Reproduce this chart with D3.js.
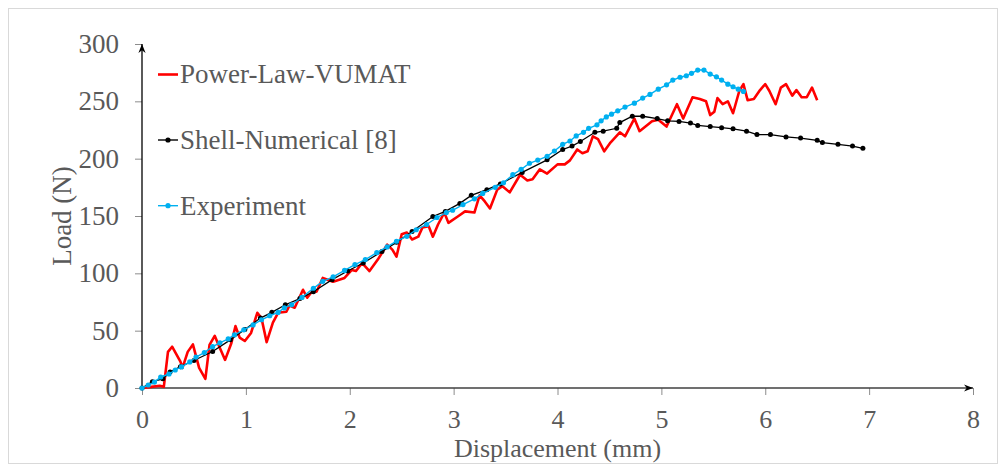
<!DOCTYPE html>
<html>
<head>
<meta charset="utf-8">
<script src="https://cdn.jsdelivr.net/npm/d3@7"></script>
<style>
  body { margin: 0; background: #fff; }
  svg { display: block; font-family: 'Liberation Serif', 'Times New Roman', serif; }
</style>
</head>
<body>
<svg id="chart" width="1005" height="466"></svg>
<script>
// Power-Law-VUMAT (red)
const redX = [0, 0.09, 0.17, 0.21, 0.25, 0.29, 0.37, 0.39, 0.44, 0.49,
    0.55, 0.61, 0.65, 0.70, 0.73, 0.80, 0.86, 0.90, 0.94, 0.99,
    1.05, 1.11, 1.15, 1.20, 1.26, 1.31, 1.39, 1.42, 1.47, 1.55,
    1.59, 1.65, 1.68, 1.74, 1.84, 1.95, 2.02, 2.06, 2.12, 2.19,
    2.27, 2.36, 2.41, 2.45, 2.50, 2.55, 2.60, 2.66, 2.70, 2.76,
    2.80, 2.85, 2.91, 2.95, 3.04, 3.11, 3.20, 3.25, 3.30, 3.35,
    3.42, 3.47, 3.54, 3.64, 3.71, 3.76, 3.83, 3.90, 4.00, 4.07,
    4.12, 4.19, 4.24, 4.29, 4.34, 4.39, 4.45, 4.51, 4.60, 4.65,
    4.74, 4.79, 4.91, 4.97, 5.05, 5.15, 5.21, 5.30, 5.37, 5.43,
    5.47, 5.51, 5.54, 5.59, 5.64, 5.69, 5.75, 5.79, 5.83, 5.89,
    5.95, 6.00, 6.04, 6.10, 6.15, 6.20, 6.26, 6.30, 6.35, 6.40,
    6.45, 6.50]
const redY = [0, 1, 2, 1, 31.5, 36, 23, 17.5, 31.5, 38,
    17.5, 8, 37.6, 45.5, 39, 24.5, 39, 54, 44, 41,
    48, 65.6, 61, 40, 57, 65.6, 66.5, 72, 70, 85.7,
    78.7, 85.7, 84, 96, 92.7, 96, 103, 102, 109, 102,
    112, 125, 120.7, 114.6, 134, 135.6, 129.5, 132, 140, 141,
    132, 142.6, 153, 144, 149.6, 154, 153, 168, 162.7, 156.6,
    173, 176, 170.6, 186, 181, 182, 190.7, 187, 195, 195,
    198.5, 208, 204.7, 206.4, 219.5, 217, 206.4, 214, 223, 219.5,
    235, 224, 232.7, 234, 228, 247.5, 235, 253.6, 252, 250,
    238, 241, 252.8, 247.5, 250, 239.6, 259, 265, 251, 252,
    259.8, 265, 259, 247.5, 262, 265, 255, 259.8, 253.6, 253.6,
    262, 251]

// Shell-Numerical [8] (black)
const blackX = [0, 0.1, 0.2, 0.27, 0.37, 0.5, 0.68, 0.85, 0.99, 1.14,
    1.25, 1.38, 1.52, 1.65, 1.83, 1.98, 2.13, 2.31, 2.45, 2.6,
    2.8, 2.92, 3.06, 3.17, 3.32, 3.45, 3.66, 3.9, 4.05, 4.14,
    4.22, 4.36, 4.44, 4.57, 4.6, 4.72, 4.82, 4.96, 5.06, 5.17,
    5.28, 5.35, 5.47, 5.58, 5.69, 5.82, 5.92, 6.05, 6.2, 6.34,
    6.5, 6.55, 6.7, 6.84, 6.94]
const blackY = [0, 5.5, 8, 14, 18.6, 24, 31.8, 42, 51, 61,
    66, 72.6, 78, 84, 94.5, 102, 109, 119, 127, 136.5,
    149.6, 154, 161, 168, 173, 178, 188, 199, 208, 211,
    215, 223, 224, 226.5, 231.5, 237, 237, 235, 233, 232.5,
    231, 229, 228, 227, 226, 224, 221, 221, 219, 218,
    216, 214, 212.5, 211, 209]

// Experiment (blue)
const blueX = [0, 0.06, 0.12, 0.18, 0.26, 0.32, 0.38, 0.46, 0.52, 0.6,
    0.68, 0.75, 0.83, 0.89, 0.98, 1.07, 1.15, 1.23, 1.31, 1.37,
    1.44, 1.54, 1.65, 1.74, 1.84, 1.95, 2.05, 2.15, 2.26, 2.36,
    2.45, 2.55, 2.64, 2.74, 2.84, 2.93, 2.99, 3.09, 3.2, 3.28,
    3.4, 3.48, 3.57, 3.65, 3.73, 3.81, 3.9, 3.97, 4.05, 4.12,
    4.18, 4.25, 4.3, 4.38, 4.42, 4.47, 4.52, 4.58, 4.65, 4.74,
    4.82, 4.89, 4.97, 5.05, 5.11, 5.18, 5.24, 5.29, 5.35, 5.41,
    5.47, 5.53, 5.58, 5.64, 5.69, 5.74, 5.79]
const blueY = [0, 2.6, 5.2, 9.6, 12.2, 15.7, 18.4, 22.7, 27, 30.9,
    36, 39.4, 42.8, 46.4, 50.7, 55, 59.5, 63, 65.9, 69.8,
    72.6, 79, 87, 93, 97, 102.5, 107.6, 112, 118, 123,
    128, 132.3, 138, 142.6, 148.7, 153, 155, 160, 165, 169.7,
    175, 179, 186, 190.7, 196, 198.8, 202, 206.7, 212.5, 215.4,
    219.8, 223, 226.5, 229.5, 233, 236.4, 238.8, 241.7, 245, 248.4,
    252.8, 256, 260.6, 264.4, 268.5, 271, 272.3, 274.4, 277.3, 277.3,
    273.8, 271.4, 268.5, 265, 262.7, 260.6, 258.6]

const xTicks = [0, 1, 2, 3, 4, 5, 6, 7, 8]
const yTicks = [0, 50, 100, 150, 200, 250, 300]
const seriesNames = ['Power-Law-VUMAT', 'Shell-Numerical [8]', 'Experiment']

const textColor = '#595959'
const fontSize = 27

const svg = d3.select('#chart')

// outer border
svg.append('rect')
    .attr('x', 8.5).attr('y', 8.5)
    .attr('width', 989).attr('height', 455)
    .attr('fill', '#fff')
    .attr('stroke', '#d9d9d9')

const x = d3.scaleLinear().domain([0, 8]).range([142, 973])
const y = d3.scaleLinear().domain([0, 300]).range([388, 44])

// arrow heads
const defs = svg.append('defs')
defs.append('marker')
    .attr('id', 'arrow')
    .attr('viewBox', '0 0 10 10')
    .attr('refX', 10).attr('refY', 5)
    .attr('markerWidth', 9).attr('markerHeight', 9)
    .attr('markerUnits', 'userSpaceOnUse')
    .attr('orient', 'auto')
    .append('path')
    .attr('d', 'M0,1 L10,5 L0,9 L3,5 Z')
    .attr('fill', '#000')

// y axis
const yAxis = svg.append('g')
    .attr('transform', `translate(${x(0)},0)`)
    .call(d3.axisLeft(y).tickValues(yTicks).tickSize(7).tickSizeOuter(0).tickPadding(16))
yAxis.select('.domain').remove()
yAxis.selectAll('.tick line').attr('stroke', '#8c8c8c')
yAxis.selectAll('.tick text')
    .attr('fill', textColor)
    .style('font-size', fontSize + 'px')
    .style('font-family', "'Liberation Serif', serif")

// x axis
const xAxis = svg.append('g')
    .attr('transform', `translate(0,${y(0)})`)
    .call(d3.axisBottom(x).tickValues(xTicks).tickSize(7).tickSizeOuter(0).tickPadding(15))
xAxis.select('.domain').remove()
xAxis.selectAll('.tick line').attr('stroke', '#8c8c8c')
xAxis.selectAll('.tick text')
    .attr('fill', textColor)
    .style('font-size', '26px')
    .style('font-family', "'Liberation Serif', serif")

svg.append('line')
    .attr('x1', x(0)).attr('x2', x(8))
    .attr('y1', y(0)).attr('y2', y(0))
    .attr('stroke', '#404040').attr('stroke-width', 1.3)
    .attr('marker-end', 'url(#arrow)')

svg.append('line')
    .attr('x1', x(0)).attr('x2', x(0))
    .attr('y1', y(0)).attr('y2', y(300))
    .attr('stroke', '#000').attr('stroke-width', 1.3)
    .attr('marker-end', 'url(#arrow)')

// axis titles
svg.append('text')
    .attr('x', (x(0) + x(8)) / 2).attr('y', 457)
    .attr('text-anchor', 'middle')
    .attr('fill', textColor)
    .style('font-size', '26px')
    .text('Displacement (mm)')

svg.append('text')
    .attr('transform', `translate(71,${(y(0) + y(300)) / 2}) rotate(-90)`)
    .attr('text-anchor', 'middle')
    .attr('fill', textColor)
    .style('font-size', fontSize + 'px')
    .text('Load (N)')

const line = d3.line().x(d => x(d[0])).y(d => y(d[1]))

const red = d3.zip(redX, redY)
const black = d3.zip(blackX, blackY)
const blue = d3.zip(blueX, blueY)

// Power-Law-VUMAT
svg.append('path')
    .datum(red)
    .attr('d', line)
    .attr('fill', 'none')
    .attr('stroke', '#ff0000')
    .attr('stroke-width', 2.6)
    .attr('stroke-linejoin', 'round')

// Shell-Numerical
svg.append('path')
    .datum(black)
    .attr('d', line)
    .attr('fill', 'none')
    .attr('stroke', '#000')
    .attr('stroke-width', 1.3)
svg.append('g').selectAll('circle')
    .data(black)
    .enter().append('circle')
    .attr('cx', d => x(d[0]))
    .attr('cy', d => y(d[1]))
    .attr('r', 2.5)
    .attr('fill', '#000')

// Experiment
svg.append('path')
    .datum(blue)
    .attr('d', line)
    .attr('fill', 'none')
    .attr('stroke', '#00b0f0')
    .attr('stroke-width', 1.4)
svg.append('g').selectAll('circle')
    .data(blue)
    .enter().append('circle')
    .attr('cx', d => x(d[0]))
    .attr('cy', d => y(d[1]))
    .attr('r', 2.6)
    .attr('fill', '#00b0f0')

// legend
const legendY = [74.5, 140, 205.7]
const legendColors = ['#ff0000', '#000', '#00b0f0']
const legend = svg.append('g')
seriesNames.forEach((name, i) => {
    const g = legend.append('g').attr('transform', `translate(0,${legendY[i]})`)
    g.append('line')
        .attr('x1', 158).attr('x2', 178)
        .attr('stroke', legendColors[i])
        .attr('stroke-width', i === 0 ? 2.6 : 1.4)
    if (i > 0) {
        g.append('circle').attr('cx', 168).attr('cy', 0).attr('r', 2.6).attr('fill', legendColors[i])
    }
    g.append('text')
        .attr('x', 180).attr('y', 8.8)
        .attr('fill', textColor)
        .style('font-size', fontSize + 'px')
        .text(name)
})
</script>
</body>
</html>
